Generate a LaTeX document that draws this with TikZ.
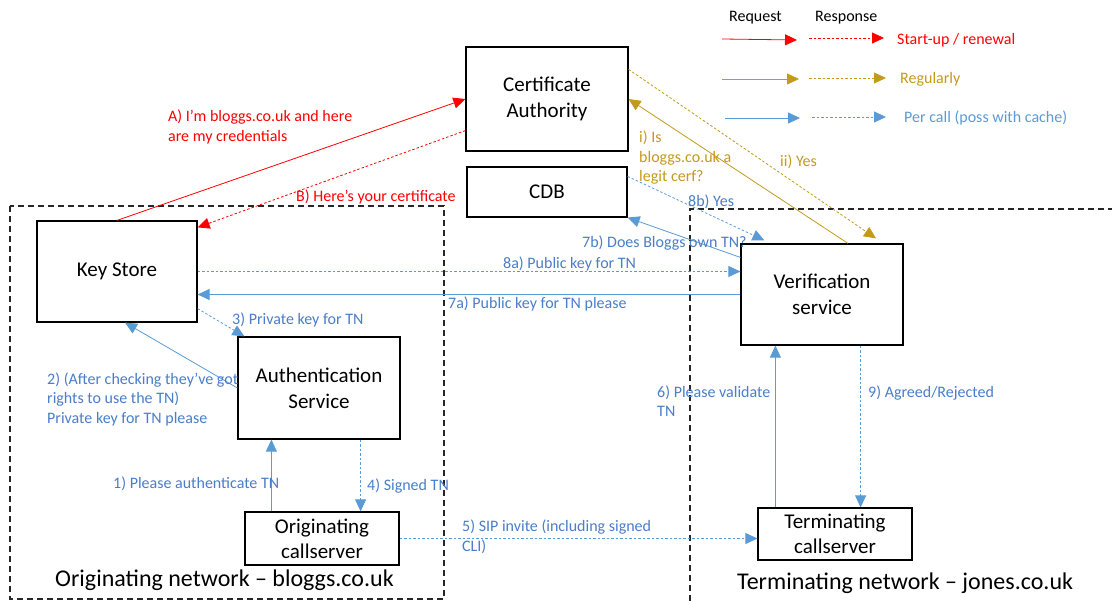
\documentclass[tikz,border=0pt]{standalone}
\usepackage{fontspec}
\setmainfont{Carlito}
\usetikzlibrary{arrows.meta,calc}
\definecolor{cred}{HTML}{FF0000}
\definecolor{cgold}{HTML}{C49A1C}
\definecolor{cblue}{HTML}{5B9BD5}
\definecolor{cbluetxt}{HTML}{4A7EC9}
\begin{document}
\begin{tikzpicture}[x=1pt,y=-1pt,
  box/.style={draw=black,line width=1.2pt,fill=white,align=center,font=\fontsize{21}{26}\selectfont,inner sep=2pt},
  net/.style={draw=black!85,line width=1.2pt,dash pattern=on 6pt off 4pt},
  tip/.style={-{Triangle[length=12pt,width=11pt]}},
  req/.style={tip,line width=0.8pt},
  resp/.style={tip,line width=0.8pt,dash pattern=on 2.5pt off 2pt},
  lbl/.style={anchor=west,align=left,inner sep=0pt,font=\fontsize{16}{19.5}\selectfont},
  nettxt/.style={anchor=west,inner sep=0pt,font=\fontsize{24}{28}\selectfont}]
\useasboundingbox (0,0) rectangle (1116,601);
\fill[white] (0,0) rectangle (1116,601);

% network regions
\draw[net] (10,206) rectangle (444,599);
\draw[net] (690,601) -- (690,209) -- (1112,209);
\node[nettxt] (onet) at (55,580) {Originating network – bloggs.co.uk};
\node[nettxt] (tnet) at (737,583) {Terminating network – jones.co.uk};

% boxes
\node[box,minimum width=162pt,minimum height=104pt] (CA) at (547,99) {Certificate\\Authority};
\node[box,minimum width=160pt,minimum height=50pt] (CDB) at (547,192) {CDB};
\node[box,minimum width=160pt,minimum height=101pt] (KS) at (117,271.5) {Key Store};
\node[box,minimum width=162pt,minimum height=102pt] (Auth) at (319,388) {Authentication\\Service};
\node[box,minimum width=154pt,minimum height=53pt,font=\fontsize{21}{25}\selectfont] (Orig) at (322,538.5) {Originating\\callserver};
\node[box,minimum width=162pt,minimum height=101pt] (Ver) at (822,294.5) {Verification\\service};
\node[box,minimum width=154pt,minimum height=52pt,font=\fontsize{21}{25}\selectfont] (Term) at (835,534) {Terminating\\callserver};

% legend
\node[lbl] (lreq) at (729,18) {Request};
\node[lbl] (lresp) at (815,18) {Response};
\coordinate (r1) at (722,39); \coordinate (r2) at (797,40);
\coordinate (r3) at (809,38); \coordinate (r4) at (884,38);
\coordinate (g1) at (722,79); \coordinate (g2) at (799,79);
\coordinate (g3) at (809,78); \coordinate (g4) at (886,78);
\coordinate (b1) at (725,118); \coordinate (b2) at (800,118);
\coordinate (b3) at (812,117); \coordinate (b4) at (886,117);
\draw[req,cred] (r1) -- (r2);
\draw[resp,cred] (r3) -- (r4);
\draw[req,cgold] (g1) -- (g2);
\draw[resp,cgold] (g3) -- (g4);
\draw[req,cblue] (b1) -- (b2);
\draw[resp,cblue] (b3) -- (b4);
\node[lbl,text=cred] (lsu) at (897,40) {Start-up / renewal};
\node[lbl,text=cgold] (lreg) at (900,79) {Regularly};
\node[lbl,text=cblue] (lpc) at (904,118) {Per call (poss with cache)};

% red
\draw[req,cred] (KS.north) -- (CA.west);
\draw[resp,cred] ([yshift=21pt]CA.south west) -- ([yshift=-7pt]KS.north east);
\node[lbl,text=cred] (la) at (168,127) {A) I’m bloggs.co.uk and here\\are my credentials};
\node[lbl,text=cred] (lb) at (296,197) {B) Here’s your certificate};

% gold
\draw[req,cgold] ([xshift=26pt]Ver.north) -- (CA.east);
\draw[resp,cgold] ([yshift=-23pt]CA.north east) -- ([xshift=54pt,yshift=5pt]Ver.north);
\node[lbl,text=cgold] (li) at (639,158) {i) Is\\bloggs.co.uk a\\legit cerf?};
\node[lbl,text=cgold] (lii) at (780,162) {ii) Yes};

% blue
\draw[req,cblue] ([yshift=-14pt]Ver.north west) -- (CDB.south east);
\draw[resp,cblue] ([yshift=-10pt]CDB.north east) -- ([xshift=24pt,yshift=3pt]Ver.north west);
\node[lbl,text=cbluetxt] (l7b) at (582,243) {7b) Does Bloggs own TN?};
\node[lbl,text=cbluetxt] (l8b) at (688,202) {8b) Yes};

\draw[resp,cblue] (KS.east) -- (Ver.west |- KS.east);
\draw[req,cblue] (Ver.west) -- (KS.east |- Ver.west);
\node[lbl,text=cbluetxt] (l8a) at (503,264) {8a) Public key for TN};
\node[lbl,text=cbluetxt] (l7a) at (448,304) {7a) Public key for TN please};

\draw[resp,cblue] ([yshift=14pt]KS.south east) -- ([xshift=7pt]Auth.north west);
\node[lbl,text=cbluetxt] (l3) at (232,320) {3) Private key for TN};

\draw[req,cblue] (Auth.west) -- ([xshift=8pt]KS.south);
\node[lbl,text=cbluetxt] (l2) at (47,399) {2) (After checking they’ve got\\rights to use the TN)\\Private key for TN please};

\coordinate (o1) at ([xshift=27pt]Orig.north west);
\draw[req,cblue] (o1) -- (o1 |- Auth.south);
\node[lbl,text=cbluetxt] (l1) at (113,484) {1) Please authenticate TN};

\coordinate (a4) at ([xshift=-40pt]Auth.south east);
\draw[resp,cblue] (a4) -- (a4 |- Orig.north);
\node[lbl,text=cbluetxt] (l4) at (367,486) {4) Signed TN};

\draw[resp,cblue] (Orig.east) -- (Term.west |- Orig.east);
\node[lbl,text=cbluetxt] (l5) at (462,537) {5) SIP invite (including signed\\CLI)};

\coordinate (t6) at ([xshift=18pt]Term.north west);
\draw[req,cblue] (t6) -- (t6 |- Ver.south);
\node[lbl,text=cbluetxt] (l6) at (657,401) {6) Please validate\\TN};

\coordinate (v9) at ([xshift=-43pt]Ver.south east);
\draw[resp,cblue] (v9) -- (v9 |- Term.north);
\node[lbl,text=cbluetxt] (l9) at (868,393) {9) Agreed/Rejected};
\end{tikzpicture}
\end{document}
